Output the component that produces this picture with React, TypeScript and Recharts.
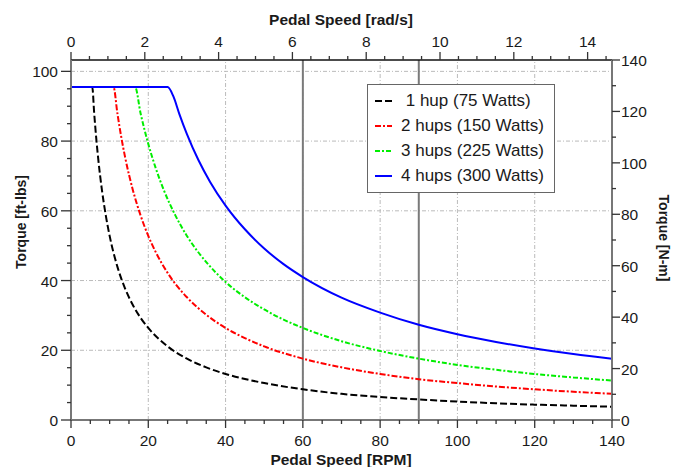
import React from "react";
import {
  LineChart,
  Line,
  XAxis,
  YAxis,
  ReferenceLine,
  Legend,
  Label,
} from "recharts";

// torque curves, ft-lbs vs pedal RPM
const rpm1 = [0, 5.5, 6, 6.5, 7, 8, 9, 10, 12, 14, 16, 18, 20, 25, 30, 35, 40, 50, 60, 70, 80, 90, 100, 110, 120, 130, 140];
const torque1 = [95.5, 95.5, 88.0, 81.2, 75.4, 66.0, 58.7, 52.8, 44.0, 37.7, 33.0, 29.3, 26.4, 21.1, 17.6, 15.1, 13.2, 10.6, 8.8, 7.5, 6.6, 5.9, 5.3, 4.8, 4.4, 4.1, 3.8];

const rpm2 = [0, 11, 12, 13, 14, 16, 18, 20, 22, 25, 30, 35, 40, 45, 50, 60, 70, 80, 90, 100, 110, 120, 130, 140];
const torque2 = [95.5, 95.5, 88.0, 81.2, 75.4, 66.0, 58.7, 52.8, 48.0, 42.2, 35.2, 30.2, 26.4, 23.5, 21.1, 17.6, 15.1, 13.2, 11.7, 10.6, 9.6, 8.8, 8.1, 7.5];

const rpm3 = [0, 16.6, 18, 20, 22, 24, 27, 30, 35, 40, 45, 50, 55, 60, 70, 80, 90, 100, 110, 120, 130, 140];
const torque3 = [95.5, 95.5, 88.0, 79.2, 72.0, 66.0, 58.7, 52.8, 45.3, 39.6, 35.2, 31.7, 28.8, 26.4, 22.6, 19.8, 17.6, 15.8, 14.4, 13.2, 12.2, 11.3];

const rpm4 = [0, 25, 26.5, 28, 30, 33, 36, 40, 45, 50, 55, 60, 70, 80, 90, 100, 110, 120, 130, 140];
const torque4 = [95.5, 95.5, 92.8, 87.9, 82.0, 74.5, 68.3, 61.5, 54.7, 49.2, 44.7, 41.0, 35.1, 30.8, 27.3, 24.6, 22.4, 20.5, 18.9, 17.6];

const seriesNames = [" 1 hup (75 Watts)", "2 hups (150 Watts)", "3 hups (225 Watts)", "4 hups (300 Watts)"];
const seriesColors = ["#000000", "#ff0000", "#00ee00", "#0000ff"];
const seriesDash = ["7 3", "6 2 2 2", "5 2 2 2", ""];

// axis ticks
const rpmTicks = Array.from({ length: 29 }, (_, i) => i * 5);
const radTicks = Array.from({ length: 30 }, (_, i) => i * 0.5);
const ftTicks = Array.from({ length: 21 }, (_, i) => i * 5);
const nmTicks = Array.from({ length: 15 }, (_, i) => i * 10);
const gridRpm = [20, 40, 60, 80, 100, 120];
const gridFt = [20, 40, 60, 80, 100];
const markRpm = [60, 90];

const RAD_TO_RPM = 60 / (2 * Math.PI);
const FT_MAX = 140 / 1.35582;

const FONT = "'Liberation Sans', Arial, Helvetica, sans-serif";
const TICK_COLOR = "#333";
const TEXT_COLOR = "#1a1a1a";

const toPoints = (xs: number[], ys: number[]) => xs.map((r, i) => ({ rpm: r, t: ys[i] }));
const series = [
  toPoints(rpm1, torque1),
  toPoints(rpm2, torque2),
  toPoints(rpm3, torque3),
  toPoints(rpm4, torque4),
];

// top axis ticks live in rpm space so they share the bottom scale
const radTicksRpm = radTicks.map((r) => r * RAD_TO_RPM);

const BottomTick = ({ x, y, payload }: any) => {
  const v = payload.value;
  const major = v % 20 === 0;
  return (
    <g>
      <line x1={x} y1={y} x2={x} y2={y + (major ? 8 : 4)} stroke={TICK_COLOR} strokeWidth={1.3} />
      {major && (
        <text x={x} y={y + 26} textAnchor="middle" fontSize={15.5} fontFamily={FONT} fill={TEXT_COLOR}>
          {v}
        </text>
      )}
    </g>
  );
};

const TopTick = ({ x, y, payload }: any) => {
  const rad = Math.round((payload.value / RAD_TO_RPM) * 2) / 2;
  const major = rad % 2 === 0;
  return (
    <g>
      <line x1={x} y1={y} x2={x} y2={y - (major ? 8 : 4)} stroke={TICK_COLOR} strokeWidth={1.3} />
      {major && (
        <text x={x} y={y - 13} textAnchor="middle" fontSize={15.5} fontFamily={FONT} fill={TEXT_COLOR}>
          {rad}
        </text>
      )}
    </g>
  );
};

const LeftTick = ({ x, y, payload }: any) => {
  const v = payload.value;
  const major = v % 20 === 0;
  return (
    <g>
      <line x1={x} y1={y} x2={x - (major ? 10 : 4)} y2={y} stroke={TICK_COLOR} strokeWidth={1.3} />
      {major && (
        <text x={x - 13} y={y + 6} textAnchor="end" fontSize={15.5} fontFamily={FONT} fill={TEXT_COLOR}>
          {v}
        </text>
      )}
    </g>
  );
};

const RightTick = ({ x, y, payload }: any) => {
  const v = payload.value;
  const major = v % 20 === 0;
  return (
    <g>
      <line x1={x} y1={y} x2={x + (major ? 8 : 4)} y2={y} stroke={TICK_COLOR} strokeWidth={1.3} />
      {major && (
        <text x={x + 9} y={y + 6} textAnchor="start" fontSize={15.5} fontFamily={FONT} fill={TEXT_COLOR}>
          {v}
        </text>
      )}
    </g>
  );
};

const title = (text: string, x: number, y: number, rotate = 0, size = 15.5) => () => (
  <text
    x={x}
    y={y}
    textAnchor="middle"
    dominantBaseline={rotate ? "central" : "auto"}
    transform={rotate ? `rotate(${rotate} ${x} ${y})` : undefined}
    fontSize={size}
    fontWeight="bold"
    fontFamily={FONT}
    fill={TEXT_COLOR}
  >
    {text}
  </text>
);

const LegendBox = () => (
  <div
    style={{
      width: 188,
      height: 109,
      boxSizing: "border-box",
      border: "1.5px solid #666",
      background: "#fff",
      paddingTop: 3,
      paddingLeft: 6.5,
      fontFamily: FONT,
      fontSize: 17,
      color: TEXT_COLOR,
    }}
  >
    {seriesNames.map((name, i) => (
      <div key={name} style={{ display: "flex", alignItems: "center", height: 25 }}>
        <svg width={17} height={6} style={{ marginRight: 9.5 }}>
          <line
            x1={0}
            y1={3}
            x2={17}
            y2={3}
            stroke={seriesColors[i]}
            strokeWidth={2}
            strokeDasharray={seriesDash[i] || undefined}
          />
        </svg>
        <span style={{ whiteSpace: "pre" }}>{name}</span>
      </div>
    ))}
  </div>
);

export default function App() {
  return (
    <div style={{ position: "absolute", left: 0, top: 0, width: 673, height: 467, background: "#fff" }}>
      <LineChart width={673} height={467} margin={{ top: 0, right: 0, bottom: 0, left: 0 }}>
        <XAxis
          xAxisId="rpm"
          dataKey="rpm"
          type="number"
          orientation="bottom"
          domain={[0, 140]}
          allowDataOverflow
          ticks={rpmTicks}
          interval={0}
          height={47}
          tickSize={0}
          tickMargin={0}
          tickLine={false}
          tick={<BottomTick />}
          axisLine={{ stroke: "#777", strokeWidth: 2 }}
        >
          <Label content={title("Pedal Speed [RPM]", 341, 465)} />
        </XAxis>
        <XAxis
          xAxisId="rad"
          dataKey="rpm"
          type="number"
          orientation="top"
          domain={[0, 140]}
          allowDataOverflow
          ticks={radTicksRpm}
          interval={0}
          height={60}
          tickSize={0}
          tickMargin={0}
          tickLine={false}
          tick={<TopTick />}
          axisLine={{ stroke: "#111", strokeWidth: 1.5 }}
        >
          <Label content={title("Pedal Speed [rad/s]", 341, 25)} />
        </XAxis>
        <YAxis
          yAxisId="ft"
          type="number"
          orientation="left"
          domain={[0, FT_MAX]}
          allowDataOverflow
          ticks={ftTicks}
          interval={0}
          width={71}
          tickSize={0}
          tickMargin={0}
          tickLine={false}
          tick={<LeftTick />}
          axisLine={{ stroke: "#777", strokeWidth: 2 }}
        >
          <Label content={title("Torque [ft-lbs]", 21, 222, -90, 14)} />
        </YAxis>
        <YAxis
          yAxisId="nm"
          type="number"
          orientation="right"
          domain={[0, 140]}
          allowDataOverflow
          ticks={nmTicks}
          interval={0}
          width={61}
          tickSize={0}
          tickMargin={0}
          tickLine={false}
          tick={<RightTick />}
          axisLine={{ stroke: "#777", strokeWidth: 2 }}
        >
          <Label content={title("Torque [N-m]", 664, 238, 90, 14)} />
        </YAxis>

        {gridRpm.map((v) => (
          <ReferenceLine key={`gx${v}`} x={v} xAxisId="rpm" yAxisId="ft" stroke="#bbb" strokeDasharray="4 2 1 2" />
        ))}
        {gridFt.map((v) => (
          <ReferenceLine key={`gy${v}`} y={v} xAxisId="rpm" yAxisId="ft" stroke="#bbb" strokeDasharray="4 2 1 2" />
        ))}
        {markRpm.map((v) => (
          <ReferenceLine key={`m${v}`} x={v} xAxisId="rpm" yAxisId="ft" stroke="#7a7a7a" strokeWidth={2} />
        ))}

        {series.map((d, i) => (
          <Line
            key={seriesNames[i]}
            data={d}
            dataKey="t"
            name={seriesNames[i]}
            xAxisId="rpm"
            yAxisId="ft"
            type="monotone"
            stroke={seriesColors[i]}
            strokeWidth={2}
            strokeDasharray={seriesDash[i] || undefined}
            dot={false}
            activeDot={false}
            isAnimationActive={false}
          />
        ))}

        <Legend
          layout="vertical"
          align="center"
          verticalAlign="middle"
          wrapperStyle={{ left: 367, top: 84, width: 188, height: 109 }}
          content={<LegendBox />}
        />
      </LineChart>
    </div>
  );
}
